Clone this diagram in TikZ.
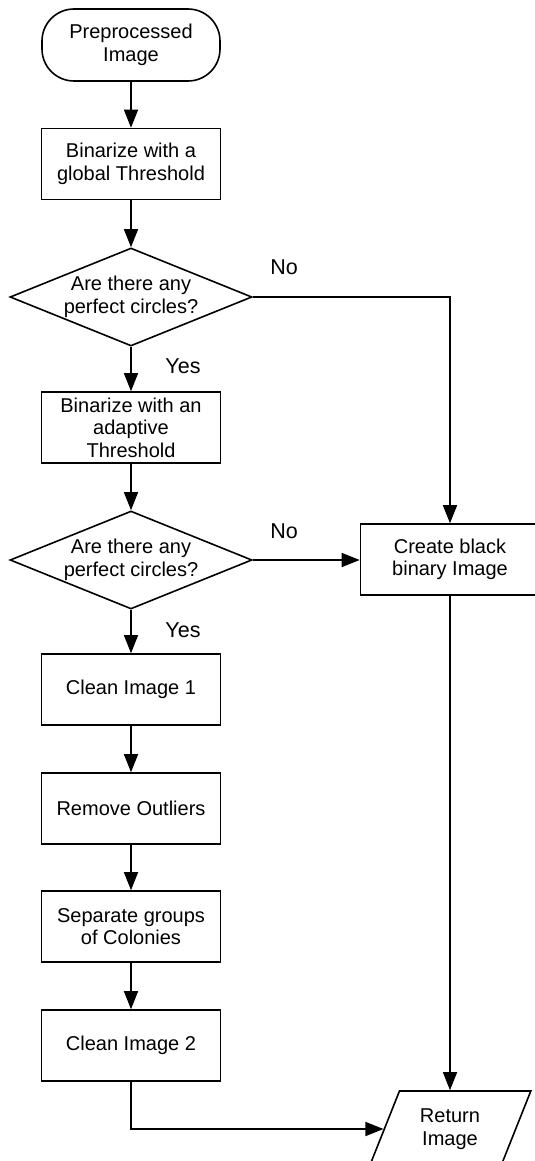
\documentclass[tikz,border=0pt]{standalone}
\usepackage{fontspec}
\setmainfont{Liberation Sans}
\usetikzlibrary{shapes.geometric,arrows.meta}
\begin{document}
\begin{tikzpicture}[x=1pt,y=-1pt,
  every node/.style={font=\fontsize{20}{22.5}\selectfont, align=center, inner sep=0pt},
  proc/.style={draw, line width=1.6pt, minimum width=179pt, minimum height=71pt},
  term/.style={draw, line width=1.6pt, rectangle, rounded corners=32pt, minimum width=178pt, minimum height=72pt},
  decision/.style={draw, line width=1.6pt, diamond, aspect=2.47, minimum width=242pt, minimum height=98pt},
  io/.style={draw, line width=1.6pt, trapezium, trapezium left angle=66, trapezium right angle=114, trapezium stretches=true, minimum width=162pt, minimum height=76pt},
  lbl/.style={font=\fontsize{21.5}{24}\selectfont},
  conn/.style={line width=1.6pt, -{Triangle[length=18pt,width=14pt]}}
]
\clip (0,0) rectangle (535,1161);
\fill[white] (0,0) rectangle (535,1161);

\node[term] (start) at (131,45) {Preprocessed\\Image};
\node[proc] (b1) at (131,164) {Binarize with a\\global Threshold};
\node[decision] (d1) at (131,297) {Are there any\\perfect circles?};
\node[proc] (b2) at (131,427.5) {Binarize with an\\adaptive\\Threshold};
\node[decision] (d2) at (131,560) {Are there any\\perfect circles?};
\node[proc] (cb) at (450,559.5) {Create black\\binary Image};
\node[proc] (c1) at (131,689.5) {Clean Image 1};
\node[proc] (ro) at (131,808.5) {Remove Outliers};
\node[proc] (sg) at (131,926.5) {Separate groups\\of Colonies};
\node[proc] (c2) at (131,1045.5) {Clean Image 2};
\node[io] (ret) at (450,1129) {Return\\Image};

\node[lbl] (no1) at (284,267) {No};
\node[lbl] (no2) at (284,531) {No};
\node[lbl] (yes1) at (183,366) {Yes};
\node[lbl] (yes2) at (183,630) {Yes};

\draw[conn] (start.south) -- (b1.north);
\draw[conn] (b1.south) -- (d1.north);
\draw[conn] (d1.south) -- (b2.north);
\draw[conn] (b2.south) -- (d2.north);
\draw[conn] (d2.south) -- (c1.north);
\draw[conn] (c1.south) -- (ro.north);
\draw[conn] (ro.south) -- (sg.north);
\draw[conn] (sg.south) -- (c2.north);
\draw[conn] (d1.east) -| (cb.north);
\draw[conn] (d2.east) -- (d2.east -| cb.west);
\draw[conn] (cb.south) -- (cb.south |- ret.north);
\draw[conn] (c2.south) |- (ret.west);
\end{tikzpicture}
\end{document}
